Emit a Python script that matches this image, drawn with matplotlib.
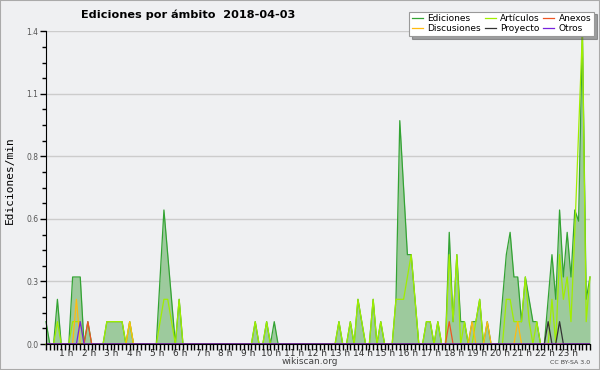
import numpy as np
import matplotlib
matplotlib.use('Agg')
import matplotlib.pyplot as plt
from matplotlib.ticker import FormatStrFormatter, MultipleLocator
from matplotlib.transforms import ScaledTranslation
from matplotlib.patches import Rectangle

# ediciones/min, un valor cada 10 minutos (6 por hora)
ediciones = [
    0.1, 0, 0, 0.2, 0, 0,          # 0 h
    0, 0.3, 0.3, 0.3, 0, 0.1,      # 1 h
    0, 0, 0, 0, 0.1, 0.1,          # 2 h
    0.1, 0.1, 0.1, 0, 0.1, 0,      # 3 h
    0, 0, 0, 0, 0, 0,              # 4 h
    0.3, 0.6, 0.4, 0.2, 0, 0.2,    # 5 h
    0, 0, 0, 0, 0, 0,              # 6 h
    0, 0, 0, 0, 0, 0,              # 7 h
    0, 0, 0, 0, 0, 0,              # 8 h
    0, 0.1, 0, 0, 0.1, 0,          # 9 h
    0.1, 0, 0, 0, 0, 0,            # 10 h
    0, 0, 0, 0, 0, 0,              # 11 h
    0, 0, 0, 0, 0, 0.1,            # 12 h
    0, 0, 0.1, 0, 0.2, 0.1,        # 13 h
    0, 0, 0.2, 0, 0.1, 0,          # 14 h
    0, 0, 0.2, 1.0, 0.7, 0.4,      # 15 h
    0.4, 0.2, 0, 0, 0.1, 0.1,      # 16 h
    0, 0.1, 0, 0, 0.5, 0.1,        # 17 h
    0.4, 0.1, 0.1, 0, 0.1, 0.1,    # 18 h
    0.2, 0, 0.1, 0, 0, 0,          # 19 h
    0.2, 0.4, 0.5, 0.3, 0.3, 0.1,  # 20 h
    0.3, 0.2, 0.1, 0.1, 0, 0,      # 21 h
    0.2, 0.4, 0.2, 0.6, 0.3, 0.5,  # 22 h
    0.3, 0.6, 0.55, 1.4, 0.2, 0.3, # 23 h
]

articulos = [
    0, 0, 0, 0.1, 0, 0,
    0, 0.1, 0.1, 0.1, 0, 0,
    0, 0, 0, 0, 0.1, 0.1,
    0.1, 0.1, 0.1, 0, 0.1, 0,
    0, 0, 0, 0, 0, 0,
    0.1, 0.2, 0.2, 0.1, 0, 0.2,
    0, 0, 0, 0, 0, 0,
    0, 0, 0, 0, 0, 0,
    0, 0, 0, 0, 0, 0,
    0, 0.1, 0, 0, 0.1, 0,
    0, 0, 0, 0, 0, 0,
    0, 0, 0, 0, 0, 0,
    0, 0, 0, 0, 0, 0.1,
    0, 0, 0.1, 0, 0.2, 0.1,
    0, 0, 0.2, 0, 0.1, 0,
    0, 0, 0.2, 0.2, 0.2, 0.3,
    0.4, 0.2, 0, 0, 0.1, 0.1,
    0, 0.1, 0, 0, 0.4, 0.1,
    0.4, 0, 0.1, 0, 0, 0.1,
    0.2, 0, 0, 0, 0, 0,
    0, 0.2, 0.2, 0.1, 0.1, 0.1,
    0.3, 0.1, 0, 0.1, 0, 0,
    0, 0.2, 0, 0.4, 0.2, 0.3,
    0.1, 0.5, 0.95, 1.4, 0.1, 0.3,
]

# series con pocos puntos: hora -> valor
discusiones = {'01:20': 0.2, '03:40': 0.1, '18:40': 0.1, '19:20': 0.1, '20:40': 0.1}
anexos = {'01:50': 0.1, '17:40': 0.1}
proyecto = {'22:00': 0.1, '22:30': 0.1}
otros = {'01:30': 0.1}


def serie(puntos):
    s = np.zeros(144)
    for hm, v in puntos.items():
        h, m = hm.split(':')
        s[int(h) * 6 + int(m) // 10] = v
    return s


horas = np.arange(144) / 6.0
bg = '#eff0f2'

fig = plt.figure(figsize=(6, 3.7), dpi=100, facecolor=bg)
ax = fig.add_axes([46 / 600, 1 - 344 / 370, 544 / 600, (344 - 31.3) / 370])
ax.set_facecolor(bg)

ax.fill_between(horas, ediciones, color='#9dca9d', lw=0, zorder=1)
l_ed, = ax.plot(horas, ediciones, color='#33a333', lw=0.9, zorder=2, clip_on=False)
l_art, = ax.plot(horas, articulos, color='#a0ee00', lw=0.9, zorder=3, clip_on=False)
l_dis, = ax.plot(horas, serie(discusiones), color='#ffbb11', lw=0.9, zorder=4)
l_anx, = ax.plot(horas, serie(anexos), color='#ee5522', lw=0.9, zorder=4)
l_pro, = ax.plot(horas, serie(proyecto), color='#333333', lw=0.9, zorder=4)
l_otr, = ax.plot(horas, serie(otros), color='#7722dd', lw=0.9, zorder=4)

ax.set_xlim(0, 143 / 6)
ax.set_ylim(0, 1.4)
ax.set_yticks(np.linspace(0, 1.4, 6))
ax.yaxis.set_major_formatter(FormatStrFormatter('%.1f'))
ax.yaxis.set_minor_locator(MultipleLocator(0.07))
ax.set_xticks(np.arange(1, 24), [f'{h} h' for h in range(1, 24)])
ax.set_xticks(horas, minor=True)
ax.tick_params(axis='x', which='both', length=4, width=1, pad=-0.5,
               labelsize=6.5, labelcolor='#333333')
ax.tick_params(axis='y', which='major', length=4, width=1, pad=1.5,
               labelsize=5.5, labelcolor='#555555')
ax.tick_params(axis='y', which='minor', length=3, width=1)
for lab in ax.get_xticklabels():
    lab.set_transform(lab.get_transform() + ScaledTranslation(-0.03, 0, fig.dpi_scale_trans))

ax.grid(axis='y', color='#cccccc', lw=1)
ax.set_axisbelow(True)
for s in ['top', 'right']:
    ax.spines[s].set_visible(False)
ax.spines['left'].set_zorder(5)
ax.spines['bottom'].set_zorder(5)

fig.text(188 / 600, 1 - 15 / 370, 'Ediciones por ámbito  2018-04-03',
         ha='center', va='center', fontsize=8.1, weight='bold')
fig.text(10 / 600, 1 - 180 / 370, 'Ediciones/min', rotation=90,
         family='DejaVu Sans Mono', fontsize=8, ha='center', va='center')
fig.text(310 / 600, 1 - 361 / 370, 'wikiscan.org', ha='center', va='center',
         fontsize=6.5, color='#444444')
fig.text(570 / 600, 1 - 362 / 370, 'CC BY-SA 3.0', ha='center', va='center',
         fontsize=4.5, color='#444444')

leg = ax.legend([l_ed, l_dis, l_art, l_pro, l_anx, l_otr],
                ['Ediciones', 'Discusiones', 'Artículos', 'Proyecto', 'Anexos', 'Otros'],
                ncol=3, loc='upper right', bbox_to_anchor=(594 / 600, 1 - 11.5 / 370),
                bbox_transform=fig.transFigure, fontsize=6.5, handlelength=1.2,
                handletextpad=0.5, columnspacing=0.4, labelspacing=0.1,
                borderpad=0.3, borderaxespad=0, fancybox=False, shadow=True,
                framealpha=1, edgecolor='#999999')
leg.get_frame().set_linewidth(0.8)
leg.set_zorder(10)

fig.patches.append(Rectangle((0, 0), 1, 1, transform=fig.transFigure,
                             fill=False, edgecolor='#aaaaaa', lw=1.5))

fig.savefig('out.png', dpi=100, facecolor=bg)
